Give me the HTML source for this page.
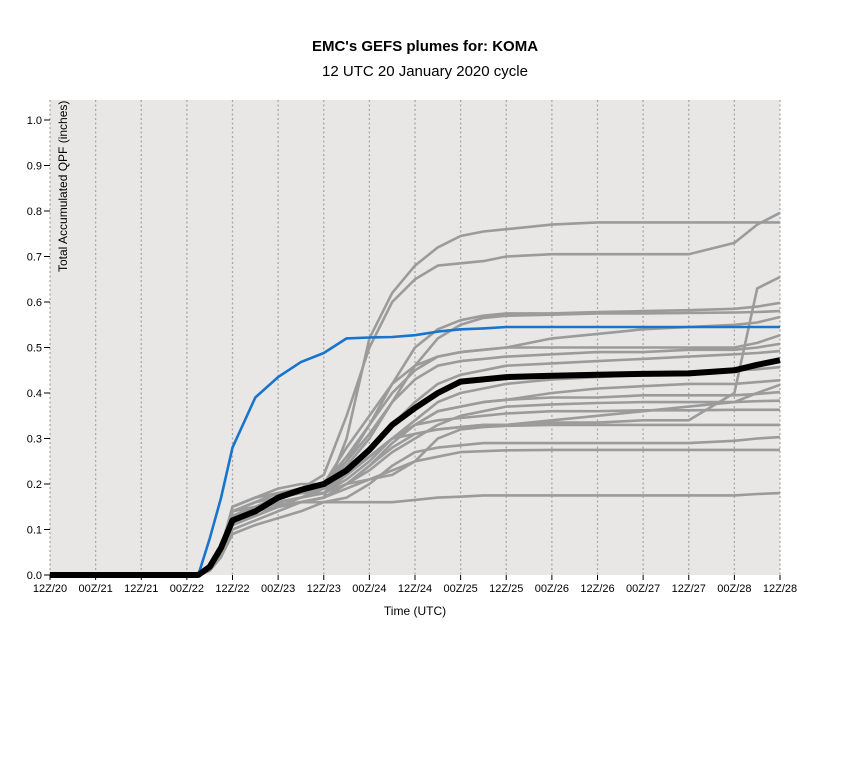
<!DOCTYPE html>
<html><head><meta charset="utf-8"><style>
body{margin:0;background:#fff;}
svg text{font-family:"Liberation Sans",Arial,sans-serif;fill:#000;}
</style></head><body>
<svg id="c" width="850" height="775">
<text x="425" y="51" text-anchor="middle" font-size="15" font-weight="bold">EMC's GEFS plumes for: KOMA</text>
<text x="425" y="76" text-anchor="middle" font-size="15">12 UTC 20 January 2020 cycle</text>
<rect x="50" y="100" width="730" height="475" fill="#e8e7e6"/>
<g id="grid"></g><g id="axes"></g><g id="series"></g>
<text transform="translate(67,272) rotate(-90)" font-size="12">Total Accumulated QPF (inches)</text>
<text x="415" y="615" text-anchor="middle" font-size="12">Time (UTC)</text>
</svg>
<script>
const hours=[0,36,39,42,45,48,54,60,66,72,78,84,90,96,102,108,114,120,132,144,156,168,180,186,192];
const xTickLabels=["12Z/20","00Z/21","12Z/21","00Z/22","12Z/22","00Z/23","12Z/23","00Z/24","12Z/24","00Z/25","12Z/25","00Z/26","12Z/26","00Z/27","12Z/27","00Z/28","12Z/28"];
const yTicks=[0,0.1,0.2,0.3,0.4,0.5,0.6,0.7,0.8,0.9,1.0];
const meanSeries=[0,0,0,.018,.06,.12,.14,.17,.187,.2,.23,.275,.33,.367,.4,.425,.43,.435,.438,.44,.442,.443,.45,.462,.472];
const controlSeries=[0,0,0,.08,.17,.28,.39,.435,.468,.488,.52,.522,.523,.527,.535,.54,.542,.545,.545,.545,.545,.545,.545,.545,.545];
const m1=[0,0,0,.01,.05,.13,.15,.17,.19,.22,.35,.5,.6,.65,.68,.685,.69,.7,.705,.705,.705,.705,.73,.77,.796];
const m2=[0,0,0,.01,.05,.12,.14,.15,.16,.17,.3,.52,.62,.68,.72,.745,.755,.76,.77,.775,.775,.775,.775,.775,.775];
const m3=[0,0,0,.01,.04,.11,.13,.15,.17,.19,.22,.26,.3,.31,.32,.325,.33,.33,.335,.335,.34,.34,.4,.63,.655];
const m4=[0,0,0,.01,.05,.14,.16,.18,.19,.2,.25,.33,.42,.5,.54,.56,.57,.575,.575,.578,.58,.582,.585,.59,.598];
const m5=[0,0,0,.01,.05,.15,.17,.18,.19,.19,.24,.3,.38,.46,.52,.55,.565,.57,.572,.575,.575,.576,.577,.578,.58];
const m6=[0,0,0,.01,.06,.15,.17,.19,.2,.2,.28,.35,.42,.46,.48,.49,.495,.5,.52,.53,.54,.545,.55,.555,.567];
const m7=[0,0,0,.01,.05,.14,.16,.18,.19,.2,.26,.33,.4,.45,.48,.49,.495,.5,.5,.5,.5,.5,.5,.51,.527];
const m8=[0,0,0,.01,.05,.13,.15,.17,.18,.19,.25,.31,.38,.43,.46,.47,.475,.48,.485,.49,.49,.495,.495,.5,.508];
const m9=[0,0,0,.01,.04,.12,.14,.16,.17,.18,.23,.28,.33,.38,.42,.44,.45,.46,.465,.47,.475,.48,.485,.488,.492];
const m10=[0,0,0,.01,.05,.13,.15,.16,.17,.18,.22,.26,.3,.34,.38,.4,.41,.42,.43,.435,.44,.445,.45,.452,.457];
const m11=[0,0,0,.01,.04,.12,.14,.15,.16,.17,.2,.24,.29,.33,.36,.37,.38,.385,.4,.41,.415,.42,.42,.424,.428];
const m12=[0,0,0,.01,.04,.11,.13,.15,.16,.17,.2,.24,.28,.31,.32,.325,.33,.33,.34,.35,.36,.37,.38,.4,.418];
const m13=[0,0,0,.01,.05,.14,.16,.17,.18,.18,.21,.25,.3,.33,.36,.37,.38,.385,.39,.39,.395,.395,.395,.398,.402];
const m14=[0,0,0,.01,.04,.12,.14,.15,.16,.17,.2,.23,.27,.3,.33,.35,.36,.37,.375,.378,.38,.38,.38,.382,.383];
const m15=[0,0,0,.01,.05,.13,.15,.16,.17,.18,.22,.26,.3,.33,.34,.345,.35,.355,.36,.36,.362,.362,.363,.363,.363];
const m16=[0,0,0,.01,.05,.15,.17,.18,.18,.18,.2,.21,.22,.25,.3,.32,.325,.328,.33,.33,.33,.33,.33,.33,.33];
const m17=[0,0,0,.01,.04,.09,.11,.125,.14,.16,.17,.2,.24,.27,.28,.285,.29,.29,.29,.29,.29,.29,.295,.3,.303];
const m18=[0,0,0,.01,.04,.1,.12,.14,.16,.17,.19,.21,.23,.25,.26,.27,.272,.274,.275,.275,.275,.275,.275,.275,.275];
const m19=[0,0,0,.01,.05,.14,.15,.155,.16,.16,.16,.16,.16,.165,.17,.172,.175,.175,.175,.175,.175,.175,.175,.178,.18];
const members=[m1,m2,m3,m4,m5,m6,m7,m8,m9,m10,m11,m12,m13,m14,m15,m16,m17,m18,m19];

const NS="http://www.w3.org/2000/svg";
const X0=50,X1=780,Y0=575,Y1=120;
function xs(h){return X0+(X1-X0)*h/192;}
function ys(v){return Y0-(Y0-Y1)*v;}
function mk(t,a,p){const e=document.createElementNS(NS,t);for(const k in a)e.setAttribute(k,a[k]);p.appendChild(e);return e;}
const grid=document.getElementById('grid'),axes=document.getElementById('axes'),ser=document.getElementById('series');
xTickLabels.forEach((lab,i)=>{
  const x=xs(i*12);
  const g=mk('line',{x1:x,x2:x,y1:100,y2:575,stroke:'#a8a8a8','stroke-width':1.3,'stroke-dasharray':'2,2.5'},grid);
  
  
  const t=mk('line',{x1:x,x2:x,y1:575,y2:580,stroke:'#000','stroke-width':1},axes);
  
  
  const tx=mk('text',{x:x,y:592,'text-anchor':'middle','font-size':11},axes);
  tx.textContent=lab;
  
  
});
yTicks.forEach(v=>{
  const y=ys(v);
  const t=mk('line',{x1:44,x2:50,y1:y,y2:y,stroke:'#000','stroke-width':1},axes);
  
  
  const tx=mk('text',{x:42,y:y+4,'text-anchor':'end','font-size':11},axes);
  tx.textContent=v.toFixed(1);
  
  
});
function pts(arr){return arr.map((v,i)=>xs(hours[i]).toFixed(1)+','+ys(v).toFixed(1)).join(' ');}
members.forEach((m,i)=>{
  const p=mk('polyline',{points:pts(m),fill:'none',stroke:'#9b9b9b','stroke-width':2.6,'stroke-linejoin':'round'},ser);
  
  
});
const cp=mk('polyline',{points:pts(controlSeries),fill:'none',stroke:'#1874cd','stroke-width':2.6,'stroke-linejoin':'round'},ser);


const mp=mk('polyline',{points:pts(meanSeries),fill:'none',stroke:'#000','stroke-width':6,'stroke-linejoin':'round'},ser);


</script>
</body></html>
